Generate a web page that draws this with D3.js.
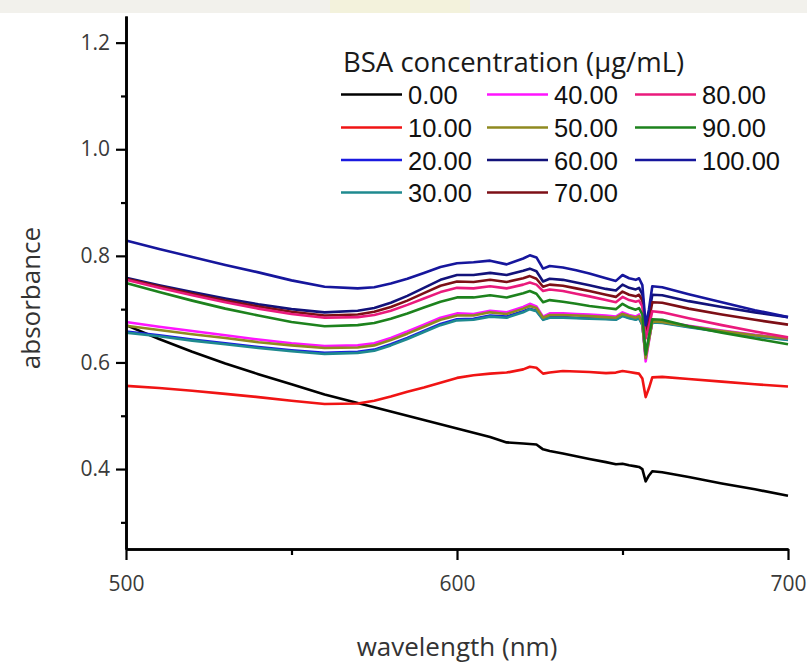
<!DOCTYPE html>
<html>
<head>
<meta charset="utf-8">
<script src="https://cdn.jsdelivr.net/npm/d3@7/dist/d3.min.js"></script>
<style>
  html, body { margin: 0; padding: 0; background: #ffffff; }
  svg { display: block; }
</style>
</head>
<body>
<svg id="chart" width="807" height="666"></svg>
<script>
// ---------------- DATA ----------------
const wavelengths = [500,510,520,530,540,550,560,570,575,580,585,590,595,600,605,610,615,620,622,624,626,628,632,636,640,645,648,650,652,654,655,656,657,658,659,662,670,680,690,700];

const conc0   = [0.670,0.644,0.620,0.598,0.578,0.559,0.540,0.524,0.516,0.508,0.500,0.492,0.484,0.476,0.468,0.460,0.450,0.448,0.447,0.446,0.437,0.434,0.429,0.424,0.419,0.413,0.409,0.410,0.407,0.405,0.404,0.400,0.377,0.388,0.396,0.394,0.385,0.373,0.362,0.350];
const conc10  = [0.556,0.552,0.547,0.541,0.535,0.528,0.522,0.523,0.528,0.536,0.545,0.553,0.562,0.571,0.576,0.579,0.581,0.587,0.592,0.590,0.579,0.581,0.584,0.583,0.582,0.580,0.581,0.584,0.582,0.580,0.579,0.570,0.535,0.552,0.572,0.573,0.569,0.564,0.559,0.555];
const conc20  = [0.658,0.651,0.643,0.636,0.629,0.623,0.618,0.620,0.624,0.634,0.646,0.659,0.672,0.681,0.682,0.688,0.686,0.696,0.701,0.697,0.681,0.685,0.685,0.684,0.683,0.682,0.681,0.688,0.684,0.681,0.684,0.671,0.613,0.646,0.676,0.675,0.667,0.658,0.650,0.643];
const conc30  = [0.656,0.649,0.641,0.634,0.627,0.621,0.616,0.618,0.622,0.632,0.644,0.657,0.670,0.679,0.680,0.686,0.684,0.694,0.700,0.696,0.680,0.684,0.684,0.683,0.682,0.681,0.680,0.687,0.683,0.680,0.683,0.670,0.612,0.645,0.675,0.674,0.666,0.657,0.649,0.642];
const conc40  = [0.676,0.667,0.659,0.651,0.643,0.636,0.631,0.632,0.636,0.646,0.658,0.671,0.684,0.692,0.691,0.697,0.694,0.704,0.710,0.705,0.686,0.692,0.692,0.691,0.690,0.688,0.686,0.694,0.689,0.686,0.690,0.675,0.602,0.640,0.678,0.677,0.669,0.660,0.652,0.645];
const conc50  = [0.669,0.661,0.653,0.646,0.638,0.632,0.627,0.628,0.632,0.642,0.654,0.667,0.680,0.688,0.688,0.694,0.691,0.701,0.706,0.702,0.684,0.689,0.689,0.688,0.687,0.685,0.684,0.691,0.687,0.684,0.687,0.673,0.608,0.642,0.677,0.676,0.668,0.659,0.651,0.645];
const conc60  = [0.759,0.745,0.732,0.720,0.709,0.700,0.694,0.697,0.702,0.712,0.725,0.740,0.755,0.764,0.764,0.768,0.764,0.772,0.776,0.771,0.752,0.757,0.755,0.750,0.745,0.738,0.735,0.746,0.740,0.737,0.740,0.728,0.665,0.690,0.727,0.726,0.715,0.704,0.694,0.685];
const conc70  = [0.757,0.743,0.729,0.716,0.705,0.695,0.688,0.690,0.695,0.704,0.716,0.730,0.744,0.752,0.751,0.755,0.751,0.758,0.762,0.757,0.742,0.746,0.744,0.739,0.734,0.727,0.723,0.733,0.727,0.724,0.727,0.716,0.655,0.680,0.713,0.712,0.701,0.690,0.680,0.671];
const conc80  = [0.755,0.740,0.726,0.713,0.701,0.691,0.684,0.685,0.689,0.697,0.708,0.720,0.732,0.740,0.739,0.743,0.739,0.746,0.750,0.746,0.734,0.737,0.734,0.729,0.724,0.717,0.713,0.723,0.717,0.714,0.716,0.705,0.645,0.668,0.696,0.694,0.683,0.670,0.658,0.647];
const conc90  = [0.749,0.732,0.716,0.701,0.688,0.676,0.668,0.670,0.674,0.682,0.692,0.703,0.714,0.722,0.722,0.726,0.722,0.730,0.734,0.729,0.713,0.717,0.714,0.710,0.706,0.702,0.700,0.710,0.703,0.699,0.702,0.690,0.615,0.650,0.681,0.680,0.668,0.656,0.645,0.634];
const conc100 = [0.829,0.813,0.798,0.783,0.769,0.754,0.742,0.739,0.741,0.748,0.757,0.768,0.779,0.786,0.788,0.791,0.784,0.795,0.801,0.797,0.776,0.781,0.778,0.773,0.767,0.758,0.753,0.764,0.758,0.755,0.758,0.745,0.670,0.700,0.743,0.741,0.728,0.713,0.698,0.685];

const seriesLabels = ["0.00","10.00","20.00","30.00","40.00","50.00","60.00","70.00","80.00","90.00","100.00"];
const seriesValues = [conc0,conc10,conc20,conc30,conc40,conc50,conc60,conc70,conc80,conc90,conc100];

const yMajorTicks = [0.4,0.6,0.8,1.0,1.2];
const yMinorTicks = [0.3,0.5,0.7,0.9,1.1];
const xMajorTicks = [500,600,700];
const xMinorTicks = [550,650];

const legendTitle = "BSA concentration (μg/mL)";
const xTitle = "wavelength (nm)";
const yTitle = "absorbance";

// ---------------- STYLE ----------------
const colors = ["#000000","#f01414","#1a1ae0","#1f8a8f","#ff14ff","#8f8a20","#12127a","#7d0f16","#ea1a7c","#1d821d","#16169c"];

const svg = d3.select("#chart");

// faint scan band at top
const band = svg.append("g");
band.append("rect").attr("x",0).attr("y",0).attr("width",807).attr("height",13).attr("fill","#f2f1ec");
band.append("rect").attr("x",330).attr("y",0).attr("width",140).attr("height",13).attr("fill","#f3f2dc");

const x = d3.scaleLinear().domain([500,700]).range([126,788]);
const y = d3.scaleLinear().domain([0.25,1.25]).range([549,16]);

// lines
const line = d3.line()
  .x((d,i) => x(wavelengths[i]))
  .y(d => y(d));

const gLines = svg.append("g");
seriesValues.forEach((vals,k) => {
  gLines.append("path")
    .datum(vals)
    .attr("d", line)
    .attr("fill","none")
    .attr("stroke", colors[k])
    .attr("stroke-width", 2.6)
    .attr("stroke-linejoin","round");
});

// axes
const tickFont = "'Open Sans', 'DejaVu Sans', sans-serif";

const yAxisMajor = svg.append("g").attr("transform","translate(126,0)")
  .call(d3.axisLeft(y).tickValues(yMajorTicks).tickFormat(d3.format(".1f")).tickSize(10).tickSizeOuter(0).tickPadding(6));
const yAxisMinor = svg.append("g").attr("transform","translate(126,0)")
  .call(d3.axisLeft(y).tickValues(yMinorTicks).tickFormat("").tickSize(5).tickSizeOuter(0));
const xAxisMajor = svg.append("g").attr("transform","translate(0,549)")
  .call(d3.axisBottom(x).tickValues(xMajorTicks).tickFormat(d3.format("d")).tickSize(11).tickSizeOuter(0).tickPadding(16));
const xAxisMinor = svg.append("g").attr("transform","translate(0,549)")
  .call(d3.axisBottom(x).tickValues(xMinorTicks).tickFormat("").tickSize(6).tickSizeOuter(0));

[yAxisMajor,yAxisMinor,xAxisMajor,xAxisMinor].forEach(g => {
  g.selectAll("path.domain").attr("stroke","#000").attr("stroke-width",2.6);
  g.selectAll(".tick line").attr("stroke","#000").attr("stroke-width",2.2);
  g.selectAll(".tick text").attr("fill","#3a3a3a").style("font-family",tickFont).style("font-size","21px");
});

// axis titles
svg.append("text")
  .attr("x", 457).attr("y", 656)
  .attr("text-anchor","middle")
  .attr("fill","#333")
  .style("font-family",tickFont).style("font-size","26px")
  .text(xTitle);

svg.append("text")
  .attr("transform","translate(40,298) rotate(-90)")
  .attr("text-anchor","middle")
  .attr("fill","#333")
  .style("font-family",tickFont).style("font-size","26px")
  .text(yTitle);

// legend
const legend = svg.append("g");
legend.append("text")
  .attr("x",343).attr("y",72)
  .attr("fill","#1a1a1a")
  .style("font-family",tickFont).style("font-size","27.5px")
  .text(legendTitle);

const colX = [341,487,635];
const rowY = [94.5,127.5,160,192.5];
seriesLabels.forEach((lab,k) => {
  const col = Math.floor(k/4), row = k%4;
  const lx = colX[col], ly = rowY[row];
  legend.append("line")
    .attr("x1",lx).attr("x2",lx+61).attr("y1",ly).attr("y2",ly)
    .attr("stroke",colors[k]).attr("stroke-width",2.6);
  legend.append("text")
    .attr("x",lx+67).attr("y",ly+9.5)
    .attr("fill","#111")
    .style("font-family","'Liberation Sans', Arial, sans-serif")
    .style("font-size","25.5px")
    .text(lab);
});
</script>
</body>
</html>
